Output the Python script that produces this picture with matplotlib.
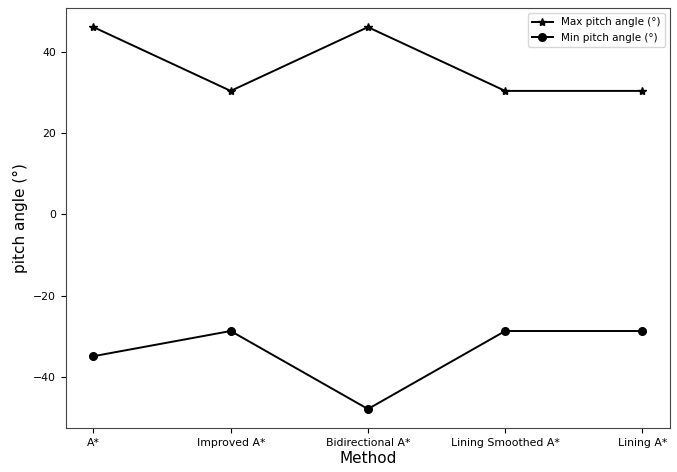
import matplotlib
matplotlib.use("Agg")
import matplotlib.pyplot as plt

methods = ["A*", "Improved A*", "Bidirectional A*", "Lining Smoothed A*", "Lining A*"]
max_pitch = [46.1, 30.4, 46.1, 30.4, 30.4]
min_pitch = [-34.9, -28.7, -47.9, -28.7, -28.7]

fig = plt.figure(figsize=(6.77, 4.72), dpi=100)
ax = fig.add_axes([0.0975, 0.093, 0.892, 0.890])

ax.plot(methods, max_pitch, color="black", marker="*", markersize=6, linewidth=1.4,
        label="Max pitch angle (°)")
ax.plot(methods, min_pitch, color="black", marker="o", markersize=5.5, linewidth=1.4,
        label="Min pitch angle (°)")

ax.set_xlabel("Method", fontsize=11, labelpad=2)
ax.set_ylabel("pitch angle (°)", fontsize=11)
ax.tick_params(labelsize=7.8)
for spine in ax.spines.values():
    spine.set_edgecolor("#444444")
ax.legend(fontsize=7.5, loc="upper right")

fig.savefig("out.png", dpi=100)
